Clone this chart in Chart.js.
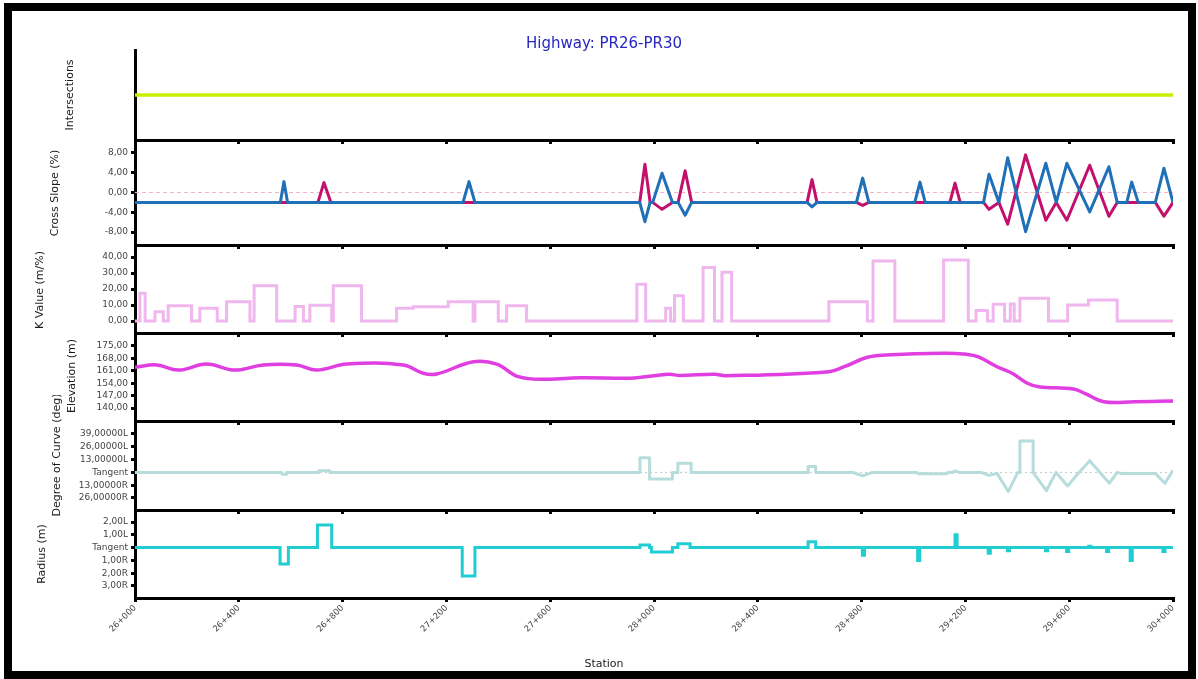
<!DOCTYPE html>
<html>
<head>
<meta charset="utf-8">
<title>Highway: PR26-PR30</title>
<script src="https://cdn.jsdelivr.net/npm/chart.js@4.4.1/dist/chart.umd.min.js"></script>
<style>
  html, body { margin: 0; padding: 0; background: #fff; }
  #page { position: relative; width: 1198px; height: 679px; overflow: hidden; background: #fff; }
  #frame { position: absolute; left: 4px; top: 3px; width: 1176px; height: 660px; border: 8px solid #000; }
</style>
</head>
<body>
<div id="page"><div id="frame"></div></div>
<script>
// ---- data: [station (m), value] ----
const stationTicks = [26000, 26400, 26800, 27200, 27600, 28000, 28400, 28800, 29200, 29600, 30000];

const intersections = [[26000, 1], [30000, 1]];

const slopeBlue = [
  [26000, -2], [26560, -2], [26574, 2.2], [26588, -2], [27264, -2], [27287, 2.2], [27310, -2],
  [27945, -2], [27965, -5.9], [27985, -2], [27995, -2], [28031, 3.9], [28071, -2],
  [28093, -2], [28120, -4.6], [28145, -2], [28590, -2], [28609, -2.9], [28628, -2],
  [28780, -2], [28804, 2.9], [28828, -2], [29005, -2], [29025, 2.1], [29045, -2],
  [29270, -2], [29291, 3.7], [29329, -2], [29363, 7.0], [29432, -7.9], [29510, 5.9], [29550, -2],
  [29591, 5.9], [29679, -3.9], [29753, 5.2], [29785, -2], [29822, -2], [29841, 2.1], [29866, -2],
  [29932, -2], [29965, 4.9], [30000, -2]
];
const slopeRed = [
  [26000, -2], [26705, -2], [26728, 2.0], [26755, -2],
  [27945, -2], [27965, 5.7], [27985, -2], [27995, -2], [28031, -3.4], [28071, -2],
  [28093, -2], [28120, 4.4], [28145, -2], [28590, -2], [28609, 2.6], [28628, -2],
  [28780, -2], [28804, -2.6], [28828, -2], [29140, -2], [29160, 1.9], [29180, -2],
  [29270, -2], [29291, -3.4], [29329, -2], [29363, -6.4], [29432, 7.6], [29510, -5.6], [29550, -2],
  [29591, -5.6], [29679, 5.5], [29753, -4.8], [29785, -2], [29932, -2], [29965, -4.8], [30000, -2]
];
const slopeZero = [[26000, 0], [30000, 0]];

// K value steps: value holds from the previous station up to this one
const kValue = [
  [26000, 0], [26019, 17.3], [26039, 0], [26077, 5.8], [26109, 0], [26128, 9.6], [26218, 0],
  [26250, 7.9], [26317, 0], [26353, 12.1], [26443, 0], [26459, 22.1], [26546, 0], [26617, 9.0],
  [26649, 0], [26674, 9.8], [26758, 0], [26764, 22.1], [26873, 0], [27008, 7.9], [27072, 8.9],
  [27207, 12.1], [27303, 0], [27310, 12.1], [27400, 0], [27432, 9.6], [27509, 0], [27934, 22.9],
  [27968, 0], [28045, 7.9], [28064, 0], [28079, 15.8], [28113, 0], [28189, 33.5], [28233, 0],
  [28262, 30.4], [28299, 0], [28674, 12.1], [28822, 0], [28844, 37.5], [28928, 0], [29116, 38.1],
  [29211, 0], [29241, 6.5], [29285, 0], [29307, 10.4], [29351, 0], [29373, 10.6], [29388, 0],
  [29410, 14.2], [29520, 0], [29594, 10.0], [29674, 13.1], [29785, 0], [30000, 0]
];

const elevation = [
  [26000, 163.0], [26084, 164.3], [26167, 161.4], [26276, 164.8], [26385, 161.4], [26494, 164.3],
  [26623, 164.3], [26700, 161.4], [26816, 164.8], [27034, 164.3], [27111, 159.6], [27163, 159.2],
  [27304, 166.1], [27394, 164.8], [27477, 157.7], [27587, 156.2], [27715, 157.1], [27907, 156.8],
  [27968, 157.7], [28057, 159.0], [28100, 158.4], [28233, 159.0], [28277, 158.2], [28674, 160.5],
  [28733, 163.3], [28822, 168.6], [28895, 169.9], [29116, 170.9], [29204, 170.3], [29248, 169.0],
  [29322, 163.3], [29380, 159.6], [29439, 154.0], [29483, 152.0], [29616, 150.7], [29660, 148.3],
  [29733, 143.6], [29851, 143.6], [30000, 144.0]
];

// degree of curve: positive = L, negative = R
const degreeCurve = [
  [26000, 0], [26565, 0], [26567, -2], [26582, -2], [26584, 0], [26706, 0], [26708, 1.7],
  [26749, 1.7], [26751, 0], [27946, 0], [27946, 14.9], [27983, 14.9], [27983, -6.7], [28071, -6.7],
  [28071, 0], [28092, 0], [28092, 9.4], [28143, 9.4], [28143, 0], [28594, 0], [28594, 5.9],
  [28623, 5.9], [28623, 0], [28765, 0], [28804, -3.6], [28842, 0], [29013, 0], [29020, -1.5],
  [29125, -1.5], [29135, 0], [29150, 0], [29160, 1.5], [29175, 0], [29260, 0], [29291, -3],
  [29322, -1], [29365, -19.5], [29402, 0], [29410, 0], [29410, 31.9], [29461, 31.9], [29461, 0],
  [29512, -18.6], [29549, 0], [29594, -13.8], [29638, 0], [29679, 11.9], [29755, -11], [29785, 0],
  [29800, -1], [29932, -1], [29969, -11], [30000, 2]
];
const degreeZero = [[26000, 0], [30000, 0]];

// radius steps: positive = L, negative = R
const radius = [
  [26000, 0], [26559, -1.28], [26591, 0], [26703, 1.77], [26758, 0], [27261, -2.22], [27310, 0],
  [27946, 0.2], [27983, 0], [27990, -0.35], [28071, 0], [28092, 0.3], [28139, 0], [28594, 0.45],
  [28623, 0], [28803, -0.6], [28811, 0], [29016, -1], [29024, 0], [29160, 1], [29168, 0],
  [29288, -0.45], [29296, 0], [29362, -0.25], [29370, 0], [29509, -0.25], [29517, 0],
  [29590, -0.3], [29598, 0], [29675, 0.1], [29683, 0], [29744, -0.3], [29752, 0],
  [29835, -1], [29843, 0], [29961, -0.3], [29969, 0], [30000, 0]
];

const slopeTicks = [-8, -4, 0, 4, 8];
const kTicks = [0, 10, 20, 30, 40];
const elevTicks = [140, 147, 154, 161, 168, 175];
const degreeTicks = [-26, -13, 0, 13, 26, 39];
const radiusTicks = [-3, -2, -1, 0, 1, 2];

// ---- helpers ----
const FONT = '"DejaVu Sans", Verdana, sans-serif';
Chart.defaults.font.family = FONT;
const PAGE_LEFT = 12;
const CANVAS_W = 1176;

const pts = (arr) => arr.map(([x, y]) => ({ x, y }));
const comma = (v, d) => v.toFixed(d).replace('.', ',');
const curveLabel = (v, d) => (v === 0 ? 'Tangent' : comma(Math.abs(v), d) + (v > 0 ? 'L' : 'R'));
const stationLabel = (v) => {
  const km = Math.floor(v / 1000);
  return km + '+' + String(Math.round(v - km * 1000)).padStart(3, '0');
};

function line(data, color, width, extra) {
  return Object.assign({
    data: pts(data),
    borderColor: color,
    borderWidth: width,
    pointRadius: 0,
    fill: false,
    borderJoinStyle: 'round'
  }, extra || {});
}

// rotated axis caption drawn at a fixed page position
const sideTitle = {
  id: 'sideTitle',
  afterDraw(chart, args, o) {
    if (!o.text) return;
    const ctx = chart.ctx;
    ctx.save();
    ctx.translate(o.x, o.y);
    ctx.rotate(-Math.PI / 2);
    ctx.font = '11px ' + FONT;
    ctx.fillStyle = '#1a1a1a';
    ctx.textAlign = 'center';
    ctx.textBaseline = 'middle';
    ctx.fillText(o.text, 0, 0);
    ctx.restore();
  }
};

function panel(p) {
  const canvas = document.createElement('canvas');
  canvas.width = CANVAS_W;
  canvas.height = p.height;
  canvas.style.cssText = `position:absolute;left:${PAGE_LEFT}px;top:${p.top}px;`;
  document.getElementById('page').appendChild(canvas);

  const last = !!p.last;
  const hasTicks = !!p.yTicks;

  return new Chart(canvas, {
    type: 'line',
    data: { datasets: p.datasets },
    options: {
      responsive: false,
      animation: false,
      events: [],
      layout: { padding: { left: 23, right: 15, top: p.padTop || 0, bottom: 0 } },
      plugins: {
        legend: { display: false },
        tooltip: { enabled: false },
        title: {
          display: !!p.title,
          text: p.title || '',
          color: '#2626c4',
          font: { size: 15, weight: 'normal' },
          padding: { top: 24, bottom: -3 }
        },
        subtitle: {
          display: last,
          text: 'Station',
          position: 'bottom',
          color: '#1a1a1a',
          font: { size: 11 },
          padding: { top: 0, bottom: 0 }
        },
        sideTitle: { text: p.side, x: p.sideX - PAGE_LEFT, y: p.sideY - p.top }
      },
      scales: {
        x: {
          type: 'linear',
          min: 26000,
          max: 30000,
          afterBuildTicks: (s) => { s.ticks = stationTicks.map((v) => ({ value: v })); },
          border: { display: true, color: '#000', width: 3 },
          grid: { drawOnChartArea: false, drawTicks: true, tickLength: 4, tickWidth: 3, lineWidth: 3, color: '#000' },
          ticks: {
            display: last,
            minRotation: 45,
            maxRotation: 45,
            padding: 1,
            color: '#444',
            font: { size: 8.5 },
            callback: (v) => stationLabel(v)
          },
          afterFit: (s) => { s.height = p.xHeight; s.paddingLeft = 0; s.paddingRight = 0; }
        },
        y: {
          min: p.yMin,
          max: p.yMax,
          afterBuildTicks: (s) => { if (hasTicks) s.ticks = p.yTicks.map((v) => ({ value: v })); },
          border: { display: true, color: '#000', width: 3 },
          grid: { drawOnChartArea: false, drawTicks: hasTicks, tickLength: 4, tickWidth: 3, lineWidth: 3, color: '#000' },
          ticks: {
            display: hasTicks,
            padding: 3,
            color: '#444',
            font: { size: 9 },
            callback: (v) => (p.yFmt ? p.yFmt(v) : v)
          },
          afterFit: (s) => { s.width = 100; s.paddingTop = 0; s.paddingBottom = 0; }
        }
      }
    },
    plugins: [sideTitle]
  });
}

// ---- panels, top to bottom ----
panel({
  top: 11, height: 135, xHeight: 6, title: 'Highway: PR26-PR30',
  yMin: 0, yMax: 2,
  side: 'Intersections', sideX: 70, sideY: 95,
  datasets: [line(intersections, '#c6f000', 3.5)]
});

panel({
  top: 140, height: 111, xHeight: 6,
  yMin: -10.6, yMax: 10.6, yTicks: slopeTicks, yFmt: (v) => comma(v, 2),
  side: 'Cross Slope (%)', sideX: 55, sideY: 193,
  datasets: [
    line(slopeBlue, '#1f70b6', 3),
    line(slopeRed, '#c2106c', 3),
    line(slopeZero, '#f2b2c8', 1, { borderDash: [4, 3] })
  ]
});

panel({
  top: 245, height: 94, xHeight: 6,
  yMin: -7.5, yMax: 47.5, yTicks: kTicks, yFmt: (v) => comma(v, 2),
  side: 'K Value (m/%)', sideX: 40, sideY: 290,
  datasets: [line(kValue, '#f0b6ee', 3, { stepped: 'before', borderJoinStyle: 'miter' })]
});

panel({
  top: 333, height: 94, xHeight: 6,
  yMin: 132.7, yMax: 182.3, yTicks: elevTicks, yFmt: (v) => comma(v, 2),
  side: 'Elevation (m)', sideX: 72, sideY: 376,
  datasets: [line(elevation, '#e03ee0', 3.5, { tension: 0.4 })]
});

panel({
  top: 395, height: 121, padTop: 26, xHeight: 6,
  yMin: -38.2, yMax: 52.2, yTicks: degreeTicks, yFmt: (v) => curveLabel(v, 5),
  side: 'Degree of Curve (deg)', sideX: 57, sideY: 455,
  datasets: [
    line(degreeCurve, '#b6dcdc', 3),
    line(degreeZero, '#c4c4c4', 1, { borderDash: [2, 3] })
  ]
});

panel({
  top: 510, height: 161, xHeight: 59.8, last: true,
  yMin: -3.94, yMax: 2.94, yTicks: radiusTicks, yFmt: (v) => curveLabel(v, 2),
  side: 'Radius (m)', sideX: 42, sideY: 554,
  datasets: [line(radius, '#20cdd3', 3, { stepped: 'before', borderJoinStyle: 'miter' })]
});
</script>
</body>
</html>
